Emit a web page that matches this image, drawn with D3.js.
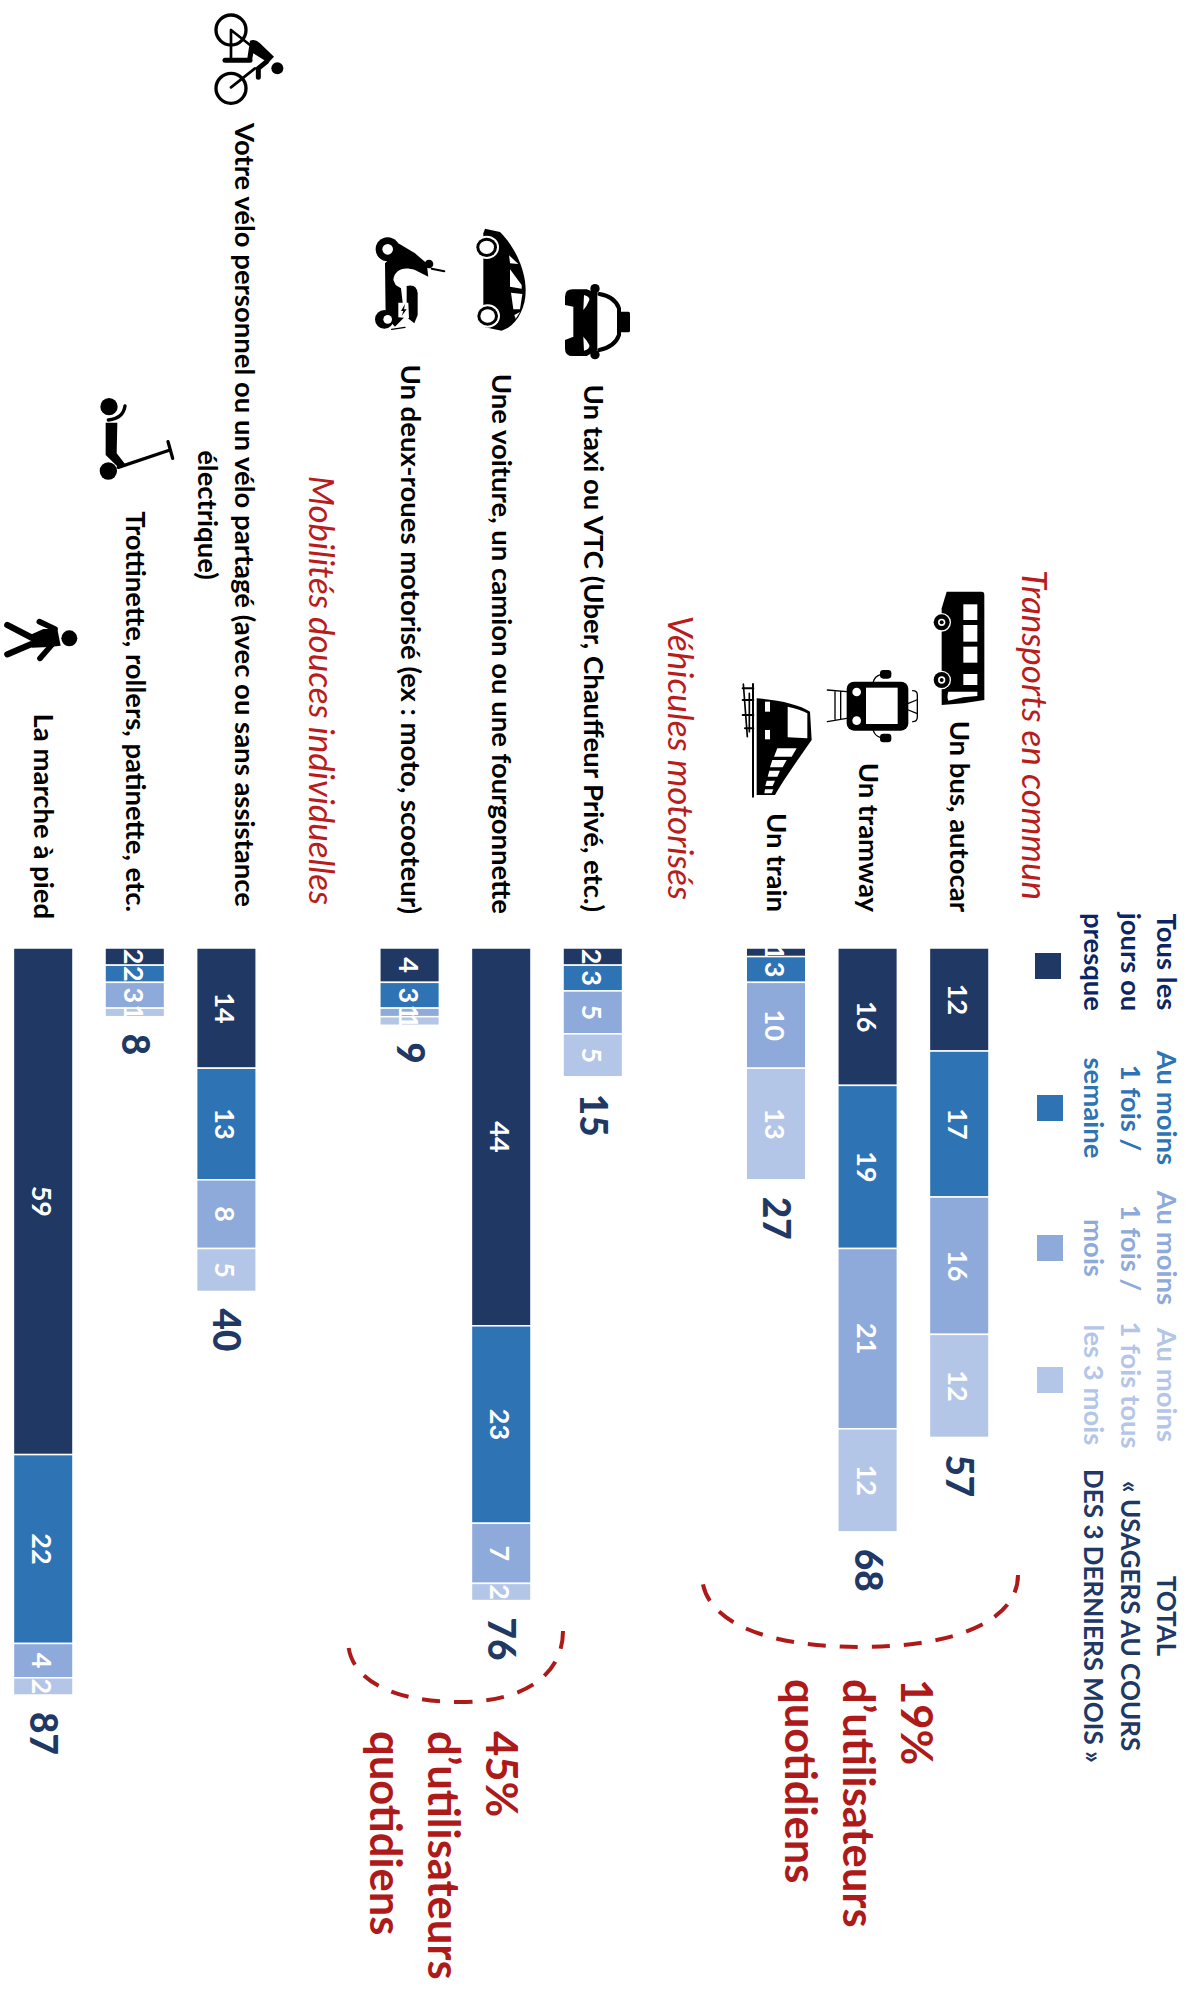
<!DOCTYPE html>
<html>
<head>
<meta charset="utf-8">
<script src="https://cdn.jsdelivr.net/npm/d3@7"></script>
<style>
  html, body { margin: 0; background: #fff; }
  text { font-family: Lato, "Open Sans", sans-serif; }
</style>
</head>
<body>
<div id="graph"></div>
<script>
// Lignes du graphique, de haut en bas une fois la page redressee
const rows = ["Transports en commun", "Un bus, autocar", "Un tramway", "Un train",
  "Véhicules motorisés", "Un taxi ou VTC (Uber, Chauffeur Privé, etc.)", "Une voiture, un camion ou une fourgonnette", "Un deux-roues motorisé (ex : moto, scooteur)",
  "Mobilités douces individuelles", "Votre vélo personnel ou un vélo partagé (avec ou sans assistance|électrique)", "Trottinette, rollers, patinette, etc.", "La marche à pied"];
const groups = ["Transports en commun", "Véhicules motorisés", "Mobilités douces individuelles"];
const categories = rows.filter(r => !groups.includes(r));

const tousLesJours = [12, 16, 1, 2, 44, 4, 14, 2, 59];
const uneFoisSemaine = [17, 19, 3, 3, 23, 3, 13, 2, 22];
const uneFoisMois = [16, 21, 10, 5, 7, 1, 8, 3, 4];
const uneFoisTroisMois = [12, 12, 13, 5, 2, 1, 5, 1, 2];
const totals = [57, 68, 27, 15, 76, 9, 40, 8, 87];

const seriesKeys = ["tous", "semaine", "mois", "trois"];
const seriesColors = ["#1F3864", "#2E74B5", "#8EAADB", "#B4C6E7"];
const legendLabels = [
  ["Tous les", "jours ou", "presque"],
  ["Au moins", "1 fois /", "semaine"],
  ["Au moins", "1 fois /", "mois"],
  ["Au moins", "1 fois tous", "les 3 mois"]
];
const legendTextColors = ["#0B2565", "#2E74B5", "#8EAADB", "#B4C6E7"];
const totalLabel = ["TOTAL", "« USAGERS AU COURS", "DES 3 DERNIERS MOIS »"];
const callouts = [["19%", "d’utilisateurs", "quotidiens"], ["45%", "d’utilisateurs", "quotidiens"]];

const red = "#AE1A1A";

const svg = d3.select("#graph").append("svg")
  .attr("width", 1186).attr("height", 2006).style("display", "block");

// Tout le graphique est tourne d'un quart de tour
const graph = svg.append("g").attr("transform", "translate(1186,0) rotate(90)");

const x = d3.scaleLinear([0, 87], [948, 1695]);
const y = d3.scaleBand().domain(rows).range([89.4, 1188.6]).paddingInner(0.35).paddingOuter(0.175);

const table = categories.map((c, i) => ({
  cat: c, tous: tousLesJours[i], semaine: uneFoisSemaine[i], mois: uneFoisMois[i], trois: uneFoisTroisMois[i], total: totals[i]
}));
const stacked = d3.stack().keys(seriesKeys)(table);

// Barres
const layers = graph.selectAll("g.layer").data(stacked).enter().append("g").attr("class", "layer");
layers.selectAll("rect").data(d => d).enter().append("rect")
  .attr("x", d => x(d[0]))
  .attr("y", d => y(d.data.cat))
  .attr("width", d => x(d[1]) - x(d[0]))
  .attr("height", y.bandwidth())
  .attr("fill", (d, i, n) => seriesColors[seriesKeys.indexOf(d3.select(n[i].parentNode).datum().key)])
  .attr("stroke", "#fff").attr("stroke-width", 1.5);

// Valeurs dans les barres
layers.selectAll("text").data(d => d).enter().append("text")
  .attr("x", d => (x(d[0]) + x(d[1])) / 2)
  .attr("y", d => y(d.data.cat) + y.bandwidth() / 2 + 11)
  .attr("text-anchor", "middle")
  .attr("fill", "#fff").attr("font-size", 27).attr("font-weight", 700)
  .text(d => d[1] - d[0]);

// Totaux
graph.selectAll("text.total").data(table).enter().append("text")
  .attr("class", "total")
  .attr("x", d => x(d.total) + 17)
  .attr("y", d => y(d.cat) + y.bandwidth() / 2 + 13)
  .attr("fill", "#1F3864").attr("font-size", 37).attr("font-weight", 900)
  .text(d => d.total);

// Libelles des categories
const labelEnd = [912, 912, 912, 912, 914, 914, 912, 912, 919];
const labels = graph.selectAll("text.cat").data(categories).enter().append("text")
  .attr("class", "cat")
  .attr("text-anchor", "middle")
  .attr("font-size", 27.5).attr("font-weight", 700).attr("fill", "#000");
labels.each(function (d, i) {
  const parts = d.split("|");
  const node = d3.select(this);
  if (parts.length === 1) {
    node.attr("text-anchor", "end").attr("x", labelEnd[i]).attr("y", y(d) + y.bandwidth() / 2 + 9).text(d);
  } else {
    // le velo : deux lignes centrees
    node.selectAll("tspan").data(parts).enter().append("tspan")
      .attr("x", 515)
      .attr("y", (p, j) => y(d) + y.bandwidth() / 2 - 9 + j * 37)
      .text(p => p);
  }
});

// Titres de groupes
const groupShift = [18, 5, -2];
graph.selectAll("text.grp").data(groups).enter().append("text")
  .attr("class", "grp")
  .attr("x", (d, i) => [900, 900, 905][i])
  .attr("y", (d, i) => y(d) + y.bandwidth() / 2 + groupShift[i] + 11)
  .attr("text-anchor", "end")
  .attr("font-size", 35).attr("font-style", "italic").attr("fill", "#B81C1C")
  .text(d => d);

// Legende
const legendX = [962, 1108, 1248, 1385];
const squareX = [966, 1108, 1248, 1380];
const legend = graph.selectAll("g.leg").data(legendLabels).enter().append("g").attr("class", "leg");
legend.append("rect")
  .attr("x", (d, i) => squareX[i] - 13)
  .attr("y", (d, i) => i === 0 ? 125 : 123)
  .attr("width", 26).attr("height", 26)
  .attr("fill", (d, i) => seriesColors[i]);
legend.each(function (d, i) {
  d3.select(this).selectAll("text").data(d).enter().append("text")
    .attr("x", legendX[i])
    .attr("y", (t, j) => 29 + j * 36.5)
    .attr("text-anchor", "middle")
    .attr("font-size", 27.5).attr("font-weight", 700)
    .attr("fill", legendTextColors[i])
    .text(t => t);
});
graph.selectAll("text.tot-leg").data(totalLabel).enter().append("text")
  .attr("class", "tot-leg")
  .attr("x", 1616)
  .attr("y", (t, j) => 29 + j * 36.5)
  .attr("text-anchor", "middle")
  .attr("font-size", 26).attr("font-weight", 700).attr("fill", "#1F3864")
  .text(t => t);

// Accolades en tirets
const braces = [
  { x0: 1575, x1: 1575, apex: 1647, top: 168, bottom: 484, mid: 326 },
  { x0: 1631, x1: 1640, apex: 1702, top: 623, bottom: 838, mid: 726 }
];
graph.selectAll("path.brace").data(braces).enter().append("path")
  .attr("class", "brace")
  .attr("fill", "none").attr("stroke", red).attr("stroke-width", 4)
  .attr("stroke-dasharray", "18 14")
  .attr("d", b => {
    const k = 0.62;
    const h0 = b.apex - b.x0, h1 = b.apex - b.x1;
    return `M${b.x0},${b.top} C${b.x0 + h0 * k},${b.top} ${b.apex},${b.mid - (b.mid - b.top) * k} ${b.apex},${b.mid}`
      + ` C${b.apex},${b.mid + (b.bottom - b.mid) * k} ${b.x1 + h1 * k},${b.bottom} ${b.x1},${b.bottom}`;
  });

// Textes rouges
const calloutPos = [{ x: 1679, y: 285 }, { x: 1731, y: 700 }];
callouts.forEach((lines, i) => {
  graph.append("g").selectAll("text").data(lines).enter().append("text")
    .attr("x", calloutPos[i].x)
    .attr("y", (t, j) => calloutPos[i].y + j * 58)
    .attr("font-size", 43.5).attr("font-weight", 700).attr("fill", red)
    .text(t => t);
});

// Pictos, dessines dans le repere des agrandissements (echelle 3)
const icons = svg.append("g").attr("fill", "#000").attr("stroke", "none");
function icon(px, py) {
  return icons.append("g").attr("transform", `translate(${px},${py}) scale(${1 / 3})`);
}
function poly(g, d, fill) { return g.append("path").attr("d", d).attr("fill", fill || "#000"); }
function line(g, d, w) {
  return g.append("path").attr("d", d).attr("fill", "none").attr("stroke", "#000")
    .attr("stroke-width", w).attr("stroke-linecap", "round").attr("stroke-linejoin", "round");
}
function disc(g, cx, cy, r, fill) { return g.append("circle").attr("cx", cx).attr("cy", cy).attr("r", r).attr("fill", fill || "#000"); }

// bus
let g = icon(900, 540);
poly(g, "M140 155 L245 155 Q253 155 253 165 L253 480 L190 490 L125 495 L125 205 Z");
[[193, 47], [255, 50], [320, 48], [402, 33]].forEach(w => g.append("rect").attr("x", 190).attr("y", w[0]).attr("width", 42).attr("height", w[1]).attr("fill", "#fff"));
poly(g, "M145 455 L232 455 L232 468 L190 472 L145 482 Q140 470 145 455 Z", "#fff");
[247, 420].forEach(c => { disc(g, 125, c, 28, "#fff"); disc(g, 125, c, 24); disc(g, 125, c, 11, "#fff"); disc(g, 125, c, 6); });

// tramway
g = icon(720, 650);
g.append("rect").attr("x", 380).attr("y", 95).attr("width", 185).attr("height", 147).attr("rx", 22);
g.append("rect").attr("x", 438).attr("y", 113).attr("width", 95).attr("height", 109).attr("fill", "#fff");
disc(g, 410, 126, 13, "#fff"); disc(g, 410, 212, 13, "#fff");
g.append("rect").attr("x", 480).attr("y", 60).attr("width", 34).attr("height", 26).attr("rx", 10);
g.append("rect").attr("x", 480).attr("y", 251).attr("width", 34).attr("height", 26).attr("rx", 10);
line(g, "M460 95 Q465 78 482 74", 4); line(g, "M460 242 Q465 258 482 263", 4);
line(g, "M578 122 Q592 122 592 135 L592 200 Q592 215 578 215", 4);
line(g, "M565 160 L590 150 M565 180 L590 190", 4);
line(g, "M380 125 L322 120 M380 205 L322 215 M345 124 L345 208 M362 126 L362 206", 4);

// train
poly(g = icon(720, 650), "M110 145 C180 150 240 165 270 185 L275 270 C240 320 190 390 165 435 L110 435 Z");
poly(g, "M203 170 C225 175 245 180 262 190 L262 265 L203 262 Z", "#fff");
g.append("rect").attr("x", 135).attr("y", 155).attr("width", 15).attr("height", 30).attr("fill", "#fff");
g.append("rect").attr("x", 135).attr("y", 240).attr("width", 15).attr("height", 28).attr("fill", "#fff");
["M172 295 L230 295 L215 320 L162 320 Z", "M157 330 L200 330 L188 352 L150 352 Z", "M148 362 L180 362 L172 380 L143 380 Z",
  "M140 392 L165 392 L158 408 L136 408 Z", "M135 418 L160 418 L155 430 L133 430 Z"].forEach(d => poly(g, d, "#fff"));
line(g, "M99 102 L99 440", 6);
line(g, "M70 102 L82 260 M88 130 L88 245", 5);
line(g, "M68 115 L100 115 M68 150 L100 150 M68 195 L100 195 M75 235 L100 235", 6);

// taxi
g = icon(520, 200);
poly(g, "M135 290 Q135 268 158 268 L200 268 L232 280 L232 450 L200 468 L158 468 Q135 468 135 446 L135 420 L160 410 L160 320 L135 315 Z");
disc(g, 225, 266, 14); disc(g, 225, 464, 14);
poly(g, "M192 285 Q210 290 208 300 Q200 320 190 330 Z", "#fff");
poly(g, "M192 452 Q210 448 208 435 Q200 420 190 410 Z", "#fff");
line(g, "M238 282 Q285 290 297 325 L297 405 Q285 440 238 450", 12);
g.append("rect").attr("x", 298).attr("y", 335).attr("width", 32).attr("height", 62).attr("rx", 5);

// voiture
g = icon(465, 220);
poly(g, "M60 26 L105 36 C150 80 182 150 182 212 C182 270 150 320 110 332 L60 322 L55 300 L55 40 Z");
poly(g, "M132 106 L160 132 L135 130 Z", "#fff");
poly(g, "M135 148 L170 195 L170 206 L135 200 Z", "#fff");
poly(g, "M138 218 L172 222 L165 268 L145 268 Z", "#fff");
poly(g, "M148 285 L165 276 L152 296 Z", "#fff");
[[65, 82], [68, 288]].forEach(c => {
  g.append("ellipse").attr("cx", c[0]).attr("cy", c[1]).attr("rx", 37).attr("ry", 35).attr("fill", "#fff");
  g.append("ellipse").attr("cx", c[0]).attr("cy", c[1]).attr("rx", 31).attr("ry", 29);
  g.append("ellipse").attr("cx", c[0]).attr("cy", c[1]).attr("rx", 22).attr("ry", 20).attr("fill", "#fff");
});

// deux-roues
g = icon(365, 230);
disc(g, 68, 58, 36); disc(g, 68, 58, 16, "#fff");
poly(g, "M100 40 L150 70 L185 100 L190 140 L150 120 C115 108 88 120 85 150 L92 165 L108 175 L118 262 L90 290 L62 260 L60 100 L85 75 Z");
poly(g, "M125 168 Q155 160 158 190 L158 255 L148 280 L125 262 Z");
disc(g, 192, 102, 13);
line(g, "M200 116 L238 124", 6);
disc(g, 58, 268, 28); disc(g, 68, 268, 13, "#fff");
line(g, "M80 298 L120 292", 4);
poly(g, "M100 218 L130 218 L132 265 L100 262 Z", "#fff");
poly(g, "M120 222 L108 243 L115 243 L110 258 L125 238 L117 238 Z");

// velo
g = icon(200, 0);
[90, 265].forEach(c => g.append("circle").attr("cx", 93).attr("cy", c).attr("r", 45).attr("fill", "none").attr("stroke", "#000").attr("stroke-width", 10));
disc(g, 232, 205, 18);
line(g, "M93 90 L93 180 M93 90 L150 135 M93 262 L165 205", 8);
line(g, "M75 181 L150 181", 15);
poly(g, "M150 122 Q165 115 180 130 L222 170 L205 188 L160 160 L155 185 L142 175 Z");
line(g, "M200 185 L175 205 L175 232", 15);

// trottinette
g = icon(90, 390);
disc(g, 57, 50, 26); disc(g, 55, 243, 26);
line(g, "M105 48 Q100 85 55 90", 10);
poly(g, "M47 98 L82 98 L80 190 L105 222 L85 232 L47 195 Z");
line(g, "M85 232 L240 180", 10);
line(g, "M234 155 L248 205", 10);

// marche
g = icon(0, 605);
disc(g, 208, 100, 24);
poly(g, "M95 88 L130 72 L172 72 L182 122 L148 126 L95 128 Z");
line(g, "M118 50 L165 72", 17);
line(g, "M120 160 L155 120", 17);
line(g, "M22 60 L95 98", 19);
line(g, "M22 148 L92 118", 19);
</script>
</body>
</html>
